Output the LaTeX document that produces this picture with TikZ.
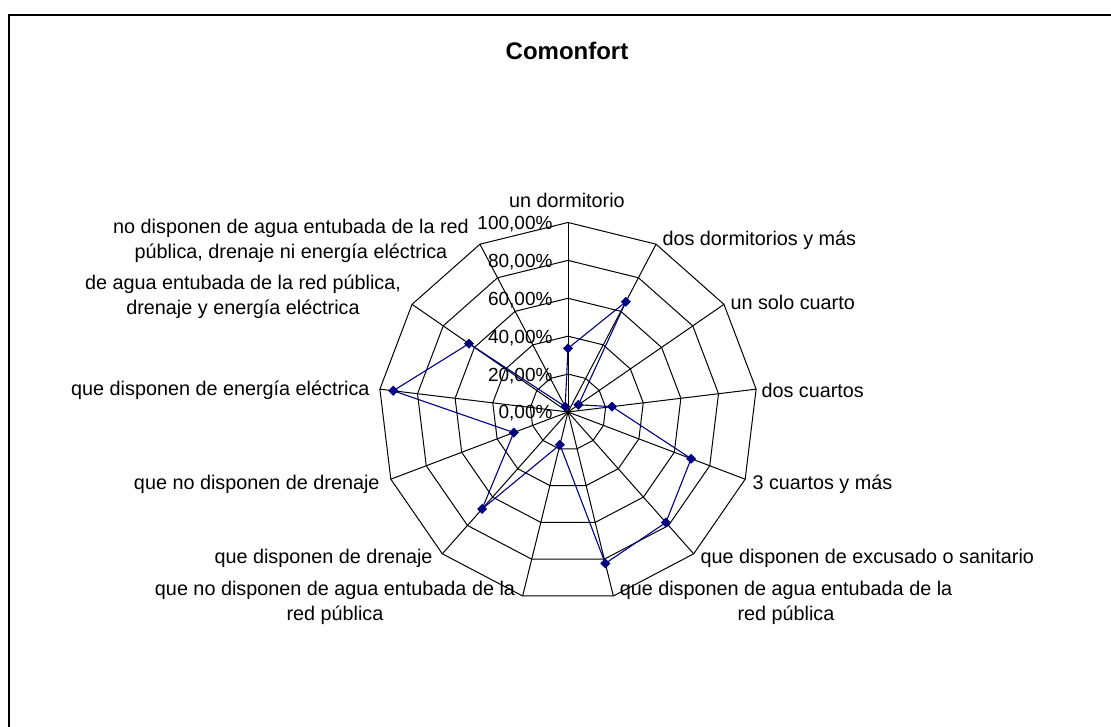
\documentclass[tikz,border=0pt]{standalone}
\usepackage{fontspec}
\setmainfont{Liberation Sans}
\usetikzlibrary{shapes.geometric}
\definecolor{serie}{RGB}{0,0,128}

\begin{document}
\begin{tikzpicture}[x=1pt,y=1pt,line width=1pt,
  lbl/.style={inner sep=0pt,align=center,font=\fontsize{19.8}{25}\selectfont},
  tick/.style={inner sep=0pt,anchor=east,font=\fontsize{19}{22}\selectfont},
  serie/.style={draw=serie,line width=1.1pt},
  dot/.style={diamond,fill=serie,inner sep=0pt,minimum size=10.5pt}]
\useasboundingbox (0,0) rectangle (1111,727);
\draw[line width=2pt] (9,-10) -- (9,712) -- (1125,712);

\node[font=\fontsize{24}{28}\selectfont\bfseries] (title) at (567,676) {Comonfort};

\begin{scope}[shift={(568,315)}]
  % grid
  \foreach \k in {0,...,12} \draw (0,0) -- ({90-\k*360/13}:189.5);
  \foreach \r in {37.9,75.8,113.7,151.6,189.5}
    \draw (90:\r) \foreach \k in {1,...,12} { -- ({90-\k*360/13}:\r) } -- cycle;

  % scale
  \foreach \v/\t in {0/{0,00\%},1/{20,00\%},2/{40,00\%},3/{60,00\%},4/{80,00\%},5/{100,00\%}}
    \node[tick] (t\v) at (-15,{\v*37.9-1.5}) {\t};

  % categories
  \node[lbl]             (c0)  at (-1,212)      {un dormitorio};
  \node[lbl,anchor=west] (c1)  at (94,172)      {dos dormitorios y más};
  \node[lbl,anchor=west] (c2)  at (162,110)     {un solo cuarto};
  \node[lbl,anchor=west] (c3)  at (193,22)      {dos cuartos};
  \node[lbl,anchor=west] (c4)  at (184,-72)     {3 cuartos y más};
  \node[lbl,anchor=west] (c5)  at (132,-146)    {que disponen de excusado o sanitario};
  \node[lbl]             (c6)  at (218,-190.5)  {que disponen de agua entubada de la\\red pública};
  \node[lbl]             (c7)  at (-233,-190.5) {que no disponen de agua entubada de la\\red pública};
  \node[lbl,anchor=east] (c8)  at (-135,-146)   {que disponen de drenaje};
  \node[lbl,anchor=east] (c9)  at (-188,-72)    {que no disponen de drenaje};
  \node[lbl,anchor=east] (c10) at (-198,22)     {que disponen de energía eléctrica};
  \node[lbl]             (c11) at (-325,115)    {de agua entubada de la red pública,\\drenaje y energía eléctrica};
  \node[lbl]             (c12) at (-277,171.5)  {no disponen de agua entubada de la red\\pública, drenaje ni energía eléctrica};

  % data
  \foreach \k/\v in {0/33.6,1/65.7,2/6.7,3/23.4,4/69.5,5/77.9,6/82.3,7/17.8,8/68.4,9/30.6,10/92.9,11/63.5,12/3.2}
    \coordinate (d\k) at ({90-\k*360/13}:{\v*1.895});
  \draw[serie] (d0) -- (d1) -- (d2) -- (d3) -- (d4) -- (d5) -- (d6) -- (d7)
    -- (d8) -- (d9) -- (d10) -- (d11) -- (d12) -- cycle;
  \foreach \k in {0,...,12} \node[dot] (m\k) at (d\k) {};
\end{scope}
\end{tikzpicture}
\end{document}
